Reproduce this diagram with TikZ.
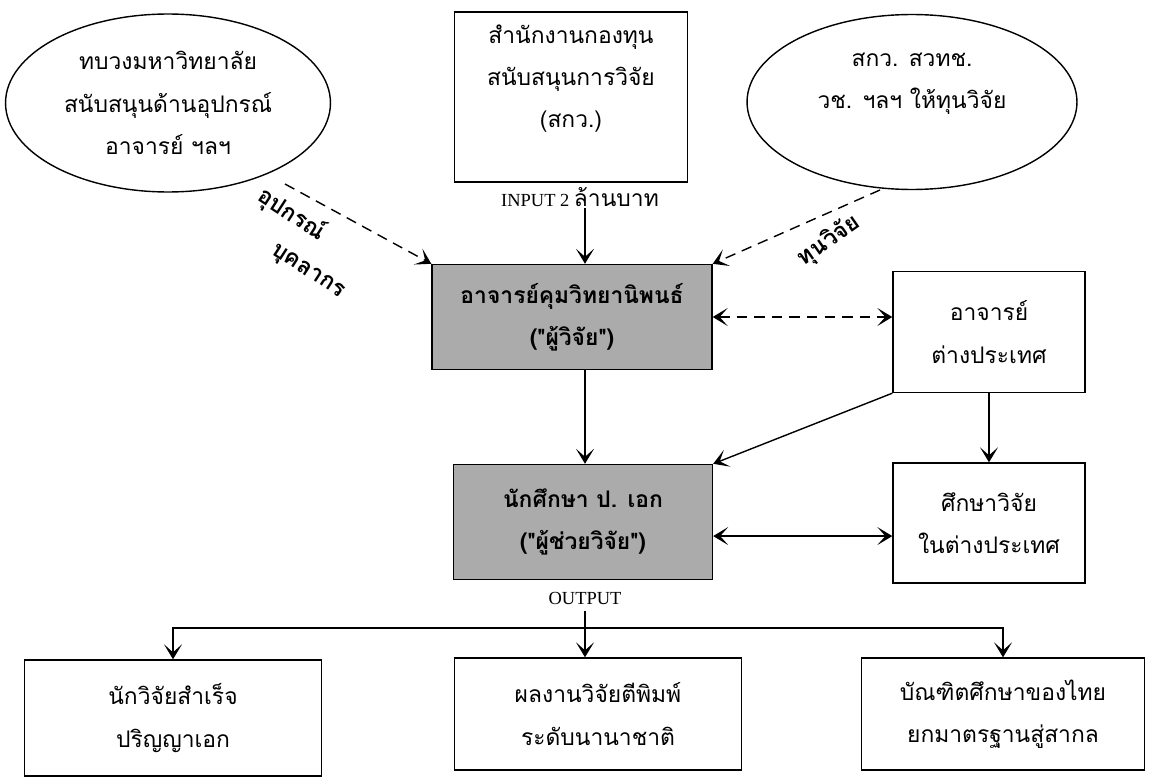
\documentclass[tikz,border=0pt]{standalone}
\usepackage{fontspec}
\setmainfont{Liberation Serif}
\newfontfamily\thaifont[Script=Thai]{Loma}
\usetikzlibrary{arrows.meta,shapes.geometric}

\begin{document}
\begin{tikzpicture}
  [x=0.02cm, y=-0.02cm, thick,
   thai/.style={font=\thaifont\fontsize{13}{24}\selectfont, align=center},
   plain/.style={thai, draw, rectangle, inner sep=0pt},
   oval/.style={thai, draw, ellipse, inner sep=0pt},
   shade/.style={plain, fill=black!33, font=\thaifont\bfseries\fontsize{13}{24}\selectfont},
   tag/.style={font=\thaifont\bfseries\fontsize{13}{21}\selectfont},
   latin/.style={font=\fontsize{10.5}{12}\selectfont},
   arr/.style={-{Stealth[length=3mm,width=3.6mm,inset=1.6mm]}},
   twoarr/.style={{Stealth[length=3mm,width=3.6mm,inset=1.6mm]}-{Stealth[length=3mm,width=3.6mm,inset=1.6mm]}},
   dashes/.style={dashed, dash pattern=on 6pt off 4pt},
  ]
  \useasboundingbox (0,0) rectangle (1163,777);

  % sources
  \node[oval, minimum width=6.5cm, minimum height=3.56cm] (uni) at (168,103)
    {ทบวงมหาวิทยาลัย\\สนับสนุนด้านอุปกรณ์\\อาจารย์ ฯลฯ};
  \node[plain, minimum width=4.66cm, minimum height=3.4cm] (trf) at (571,97)
    {สำนักงานกองทุน\\สนับสนุนการวิจัย\\(สกว.)\\~};
  \node[oval, minimum width=6.6cm, minimum height=3.5cm] (fund) at (912,102)
    {สกว. สวทช.\\วช. ฯลฯ ให้ทุนวิจัย\\~};
  \node[latin] (inp) at (580,197) {INPUT 2 {\thaifont\fontsize{13}{15}\selectfont ล้านบาท}};

  % middle
  \node[shade, minimum width=5.6cm, minimum height=2.1cm] (adv) at (572,317)
    {อาจารย์คุมวิทยานิพนธ์\\("ผู้วิจัย")};
  \node[shade, minimum width=5.18cm, minimum height=2.3cm] (stu) at (583,522)
    {นักศึกษา ป. เอก\\("ผู้ช่วยวิจัย")};
  \node[plain, minimum width=3.84cm, minimum height=2.42cm] (abr) at (989,332)
    {อาจารย์\\ต่างประเทศ};
  \node[plain, minimum width=3.84cm, minimum height=2.4cm] (study) at (989,523)
    {ศึกษาวิจัย\\ในต่างประเทศ};
  \node[latin] (out) at (585,598) {OUTPUT};

  % results
  \node[plain, minimum width=5.94cm, minimum height=2.32cm] (phd) at (173,718)
    {นักวิจัยสำเร็จ\\ปริญญาเอก};
  \node[plain, minimum width=5.74cm, minimum height=2.24cm] (pub) at (598,714)
    {ผลงานวิจัยตีพิมพ์\\ระดับนานาชาติ};
  \node[plain, minimum width=5.66cm, minimum height=2.24cm] (grad) at (1003,714)
    {บัณฑิตศึกษาของไทย\\ยกมาตรฐานสู่สากล};

  % slanted labels
  \node[tag, rotate=-33, align=left] (gear) at (302,243) {อุปกรณ์\\\hspace{1.8em}บุคลากร};
  \node[tag, rotate=35] (money) at (829,241) {ทุนวิจัย};

  \coordinate (ld) at (285,184);
  \coordinate (rd) at (880,190);
  \coordinate (c1) at (585,208);
  \coordinate (hub) at (585,628);

  \draw[arr, dashes] (ld) -- (adv.north west);
  \draw[arr, dashes] (rd) -- (adv.north east);
  \draw[arr] (c1) -- (c1 |- adv.north);
  \draw[twoarr, dashes] (adv.east) -- (adv.east -| abr.west);
  \draw[arr] (abr.south west) -- (stu.north east);
  \draw[arr] (abr.south) -- (study.north);
  \draw[arr] (c1 |- adv.south) -- (c1 |- stu.north);
  \draw[twoarr] ([yshift=-8pt]stu.east) -- ([yshift=-8pt]stu.east -| study.west);
  \draw[arr] (out.south) -- (out.south |- pub.north);
  \draw[arr] (hub) -| (phd.north);
  \draw[arr] (hub) -| (grad.north);
\end{tikzpicture}
\end{document}
